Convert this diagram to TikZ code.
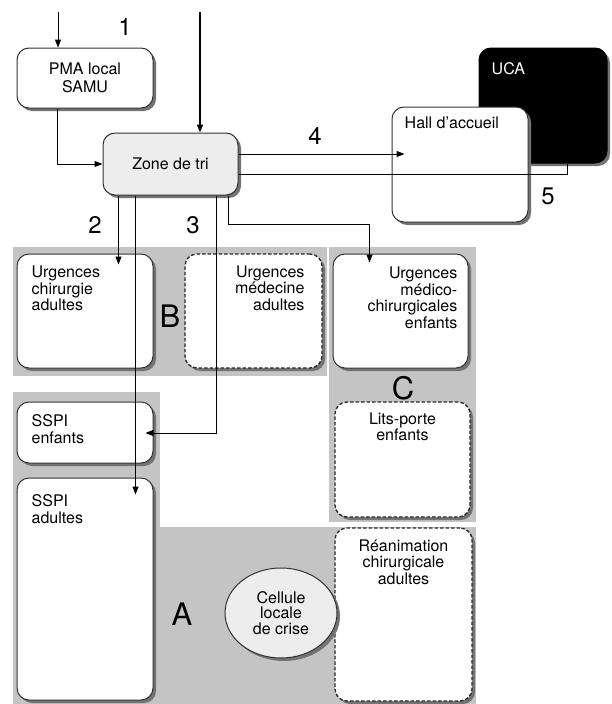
\documentclass[tikz,border=0pt]{standalone}
\usepackage{fontspec}
\setmainfont{TeX Gyre Heros}
\usetikzlibrary{shadows,arrows.meta,calc,shapes.geometric}
\begin{document}
\begin{tikzpicture}[x=1pt,y=-1pt,
  box/.style={draw=black!80, line width=1pt, fill=white, rounded corners=12pt, inner sep=0pt,
    drop shadow={shadow xshift=3pt, shadow yshift=-3pt, fill=black!55, opacity=1}},
  dbox/.style={box, draw=black!85, line width=1.3pt, dash pattern=on 3.5pt off 2pt},
  zonebox/.style={box, fill=black!7},
  region/.style={fill=black!23, draw=none},
  txt/.style={font=\fontsize{16}{16.7}\selectfont, inner sep=0pt},
  big/.style={font=\fontsize{31}{31}\selectfont, inner sep=0pt},
  num/.style={font=\fontsize{24}{24}\selectfont, inner sep=0pt},
  arr/.style={-{Triangle[length=8pt,width=6pt]}, line width=1pt},
  ln/.style={line width=1pt}
]
\fill[white] (0,0) rectangle (611,704);
\useasboundingbox (0,0) rectangle (611,704);

% grey regions
\fill[region] (13,247) rectangle (327,376);
\fill[region] (329,247) rectangle (476,522);
\fill[region] (13,392) rectangle (160,704);
\fill[region] (160,527) rectangle (476,704);

% boxes
\node[box, minimum width=136pt, minimum height=60pt] (pma) at (85,78) {};
\node[txt, align=center] (pmaT) at (pma.center) {PMA local\\[1.5pt]SAMU};

\node[zonebox, minimum width=135pt, minimum height=62pt] (zone) at (170.5,164) {};
\node[txt] (zoneT) at (zone.center) {Zone de tri};

\node[box, fill=black, draw=black, minimum width=128pt, minimum height=115pt] (uca) at (543,105.5) {};
\node[txt, text=white, anchor=north west] (ucaT) at ([shift={(13pt,-15pt)}]uca.north west) {UCA};

\node[box, minimum width=136pt, minimum height=115pt] (hall) at (460,164.5) {};
\node[txt, anchor=north west] (hallT) at ([shift={(13pt,-10pt)}]hall.north west) {Hall d’accueil};

\node[box, minimum width=136pt, minimum height=114pt] (uchir) at (85,311) {};
\node[txt, anchor=north west, align=left] (uchirT) at ([shift={(15pt,-12pt)}]uchir.north west) {Urgences\\chirurgie\\adultes};

\node[dbox, minimum width=137pt, minimum height=114pt] (umed) at (253.5,311) {};
\node[txt, anchor=north east, align=right] (umedT) at ([shift={(-18pt,-12pt)}]umed.north east) {Urgences\\médecine\\adultes};

\node[box, minimum width=135pt, minimum height=114pt] (uenf) at (400.5,311) {};
\node[txt, anchor=north east, align=right] (uenfT) at ([shift={(-11pt,-13pt)}]uenf.north east) {Urgences\\médico-\\chirurgicales\\enfants};

\node[dbox, minimum width=135pt, minimum height=115pt] (lits) at (402.5,459.5) {};
\node[txt, anchor=north, align=center] (litsT) at ([shift={(0pt,-11pt)}]lits.north) {Lits-porte\\enfants};

\node[box, minimum width=136pt, minimum height=61pt] (sspienf) at (85,432.5) {};
\node[txt, anchor=north west, align=left] (sspienfT) at ([shift={(15pt,-13pt)}]sspienf.north west) {SSPI\\enfants};

\node[box, minimum width=136pt, minimum height=222pt] (sspiad) at (85,589) {};
\node[txt, anchor=north west, align=left] (sspiadT) at ([shift={(15pt,-17pt)}]sspiad.north west) {SSPI\\adultes};

\node[dbox, minimum width=137pt, minimum height=173pt] (rea) at (403.5,614.5) {};
\node[txt, anchor=north, align=center] (reaT) at ([shift={(0pt,-12pt)}]rea.north) {Réanimation\\chirurgicale\\adultes};

\node[ellipse, draw=black!80, line width=1pt, fill=black!7, minimum width=112pt, minimum height=90pt, inner sep=0pt,
  drop shadow={shadow xshift=3pt, shadow yshift=-3pt, fill=black!55, opacity=1},
  font=\fontsize{16}{15.5}\selectfont, align=center] (cell) at (281,613) {Cellule\\locale\\de crise};

% region letters and numbers
\node[big] (lB) at (170,316) {B};
\node[big] (lC) at (403,388) {C};
\node[big] (lA) at (182,614) {A};
\node[num] (n1) at (125,27) {1};
\node[num] (n2) at (95,225) {2};
\node[num] (n3) at (193,225) {3};
\node[num] (n4) at (315,136) {4};
\node[num] (n5) at (548,196) {5};

% connectors
\coordinate (in1) at (58,12);
\coordinate (in2) at (200,12);
\draw[arr] (in1) -- (in1 |- pma.north);
\draw[arr, line width=1.8pt] (in2) -- (in2 |- zone.north);
\draw[arr] ($(pma.south west)+(41,0)$) |- (zone.west);
\draw[arr] ($(zone.east)+(0,-10)$) -- ($(hall.west)+(13,-10.5)$);
\draw[ln] ($(zone.east)+(0,10)$) -| ($(uca.south west)+(89,0)$);
\draw[arr] ($(zone.south west)+(16,0)$) -- ($(uchir.north west)+(102,11)$);
\draw[arr] ($(zone.south west)+(33,0)$) -- ($(sspiad.north west)+(119,17)$);
\draw[arr] ($(zone.south west)+(114,0)$) |- ($(sspienf.east)+(-8,0.5)$);
\draw[arr] ($(zone.south west)+(126,0)$) -- ++(0,29) -| ($(uenf.north west)+(37,9)$);
\end{tikzpicture}
\end{document}
